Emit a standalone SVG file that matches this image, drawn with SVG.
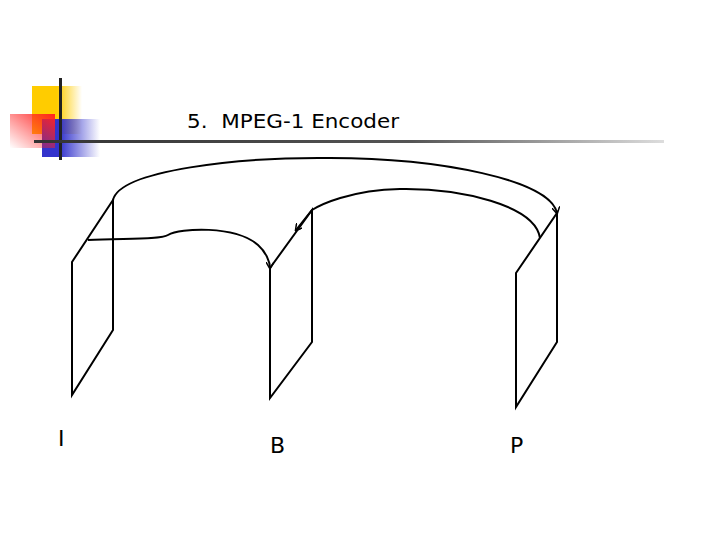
<svg xmlns="http://www.w3.org/2000/svg" width="720" height="540" viewBox="0 0 720 540">
<defs>
<linearGradient id="gy" x1="0" x2="1"><stop offset="0.5" stop-color="#ffcc00"/><stop offset="1" stop-color="#ffcc00" stop-opacity="0"/></linearGradient>
<linearGradient id="gb" x1="0" x2="1"><stop offset="0.3" stop-color="#3333cc"/><stop offset="1" stop-color="#3333cc" stop-opacity="0"/></linearGradient>
<linearGradient id="gr" x1="1" x2="0" y1="0" y2="1"><stop offset="0" stop-color="#ff2222"/><stop offset="1" stop-color="#ff2222" stop-opacity="0"/></linearGradient>
<linearGradient id="gl" x1="0" x2="1"><stop offset="0" stop-color="#333"/><stop offset="0.6" stop-color="#555"/><stop offset="1" stop-color="#ddd"/></linearGradient>
<marker id="ah" markerWidth="8" markerHeight="8" refX="6" refY="4" orient="auto" markerUnits="userSpaceOnUse"><path d="M0,0 L7,4 L0,8" fill="none" stroke="#000" stroke-width="1.5"/></marker>
</defs>
<style>.l{fill:none;stroke:#000;stroke-width:2}.t{font-family:"DejaVu Sans",Verdana,sans-serif;fill:#000}</style>
<g id="logo">
<rect x="32" y="86" width="50" height="48" fill="url(#gy)"/>
<rect x="42" y="119" width="58" height="38" fill="url(#gb)"/>
<rect x="10" y="114" width="45" height="34" fill="url(#gr)"/>
<rect x="59" y="78" width="3" height="82" fill="#222"/>
<rect x="34" y="140" width="630" height="3" fill="url(#gl)"/>
</g>
<text class="t" x="187" y="128" font-size="20" xml:space="preserve" textLength="212" lengthAdjust="spacingAndGlyphs">5.  MPEG-1 Encoder</text>
<g id="frameI"><path class="l" d="M72,262 L113,200 L113,330 L72,395 Z"/></g>
<g id="frameB"><path class="l" d="M270,268 L312,210 L312,342 L270,398 Z"/></g>
<g id="frameP"><path class="l" d="M516,273 L557,213 L557,342 L516,407 Z"/></g>
<g id="connectors">
<path class="l" d="M113,200 C120,170 240,157 330,158 C440,158 550,180 557,213" marker-end="url(#ah)"/>
<path class="l" d="M88,240 C120,238 160,240 168,235 C180,228 235,225 258,245 C266,252 270,262 270,268" marker-end="url(#ah)"/>
<path class="l" d="M540,238 C535,205 460,188 400,189 C350,190 320,205 312,210 L296,230" marker-end="url(#ah)"/>
</g>
<text class="t" x="58" y="446" font-size="22">I</text>
<text class="t" x="270" y="453" font-size="22">B</text>
<text class="t" x="510" y="453" font-size="22">P</text>
</svg>
